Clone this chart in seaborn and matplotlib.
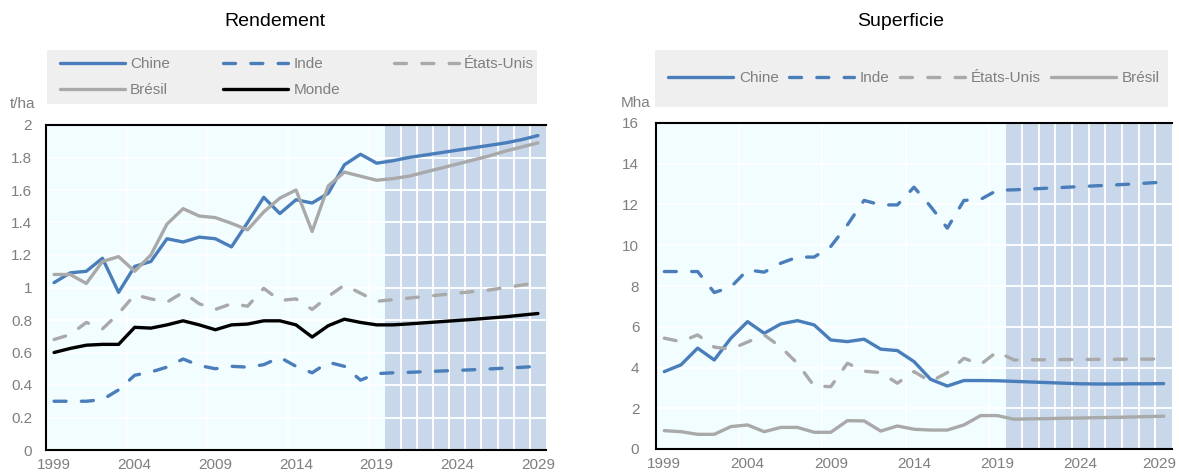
import numpy as np
import pandas as pd
import matplotlib
matplotlib.use("Agg")
import matplotlib.pyplot as plt
import seaborn as sns
from matplotlib import font_manager
from matplotlib.patches import Rectangle
from matplotlib.ticker import FixedLocator, FuncFormatter
from matplotlib.transforms import ScaledTranslation

# ---- data ----
years = list(range(1999, 2030))

rend_chine = [1.03, 1.09, 1.10, 1.18, 0.97, 1.13, 1.16, 1.30, 1.28, 1.31, 1.30, 1.25, 1.40, 1.555, 1.455, 1.54,
              1.52, 1.58, 1.755, 1.82, 1.765, 1.78, 1.80, 1.815, 1.83, 1.845, 1.86, 1.875, 1.89, 1.91, 1.935]
rend_inde = [0.30, 0.30, 0.30, 0.31, 0.37, 0.46, 0.48, 0.51, 0.56, 0.52, 0.50, 0.515, 0.51, 0.525, 0.57, 0.515,
             0.475, 0.54, 0.515, 0.43, 0.47, 0.475, 0.478, 0.482, 0.486, 0.49, 0.494, 0.499, 0.504, 0.509, 0.515]
rend_eu = [0.68, 0.71, 0.785, 0.745, 0.84, 0.955, 0.93, 0.91, 0.97, 0.90, 0.865, 0.90, 0.885, 0.995, 0.92, 0.93,
           0.865, 0.945, 1.015, 0.965, 0.915, 0.925, 0.935, 0.945, 0.955, 0.965, 0.975, 0.985, 1.0, 1.015, 1.03]
rend_bresil = [1.08, 1.08, 1.025, 1.16, 1.19, 1.10, 1.20, 1.39, 1.485, 1.44, 1.43, 1.395, 1.355, 1.465, 1.55, 1.60,
               1.345, 1.625, 1.71, 1.685, 1.66, 1.67, 1.685, 1.71, 1.735, 1.76, 1.785, 1.81, 1.84, 1.865, 1.89]
rend_monde = [0.60, 0.625, 0.645, 0.65, 0.65, 0.755, 0.75, 0.77, 0.795, 0.77, 0.74, 0.77, 0.775, 0.795, 0.795, 0.77,
              0.695, 0.765, 0.805, 0.785, 0.77, 0.77, 0.776, 0.783, 0.79, 0.797, 0.804, 0.812, 0.82, 0.83, 0.84]

sup_chine = [3.80, 4.13, 4.95, 4.37, 5.44, 6.25, 5.68, 6.14, 6.30, 6.09, 5.35, 5.27, 5.39, 4.90, 4.83, 4.29,
             3.42, 3.09, 3.36, 3.36, 3.35, 3.32, 3.29, 3.26, 3.23, 3.20, 3.19, 3.19, 3.20, 3.20, 3.21]
sup_inde = [8.71, 8.71, 8.71, 7.68, 7.95, 8.79, 8.68, 9.12, 9.42, 9.42, 9.94, 11.0, 12.2, 11.98, 11.98, 12.85,
            11.9, 10.84, 12.2, 12.25, 12.7, 12.72, 12.76, 12.8, 12.84, 12.88, 12.92, 12.96, 13.0, 13.05, 13.1]
sup_eu = [5.44, 5.27, 5.6, 5.0, 4.9, 5.25, 5.6, 5.0, 4.2, 3.09, 3.06, 4.21, 3.82, 3.75, 3.23, 3.80,
          3.31, 3.75, 4.45, 4.15, 4.78, 4.37, 4.38, 4.38, 4.39, 4.39, 4.40, 4.40, 4.41, 4.41, 4.42]
sup_bresil = [0.90, 0.85, 0.72, 0.72, 1.10, 1.18, 0.85, 1.06, 1.06, 0.82, 0.82, 1.39, 1.38, 0.88, 1.13, 0.97,
              0.93, 0.93, 1.18, 1.64, 1.64, 1.46, 1.48, 1.49, 1.51, 1.52, 1.54, 1.55, 1.57, 1.59, 1.61]

year_labels = [1999, 2004, 2009, 2014, 2019, 2024, 2029]
first_projection = 2020

# ---- style ----
BLUE = "#4a7ebb"
GREY = "#a9a9a9"
TXT = "#7f7f7f"
BG = "#f2fdff"
PROJ = "#c9d7ea"
DASH = (0, (3.6, 4.6))
LW = 2.4
FS = 11

sns.set_theme(style="white")
available = {f.name for f in font_manager.fontManager.ttflist}
font = "Liberation Sans Narrow" if "Liberation Sans Narrow" in available else "Liberation Sans"
plt.rcParams["font.family"] = [font, "DejaVu Sans"]

W, H = 1179, 474
fig = plt.figure(figsize=(W / 100, H / 100), dpi=100)


def px_rect(x0, y0, x1, y1):
    return [x0 / W, 1 - y1 / H, (x1 - x0) / W, (y1 - y0) / H]


def draw_panel(ax, series, ymax, ystep, ypad):
    df = pd.DataFrame({"annee": years})
    for name, vals, color, ls in series:
        df[name] = vals
        sns.lineplot(data=df, x="annee", y=name, ax=ax, color=color, lw=LW, linestyle=ls,
                     label=name, legend=False, solid_capstyle="round", dash_capstyle="round", zorder=3)

    ax.set_facecolor(BG)
    ax.set_xlim(years[0] - 0.5, years[-1] + 0.5)
    ax.set_ylim(0, ymax)
    ax.axvspan(first_projection - 0.5, years[-1] + 0.5, color=PROJ, lw=0, zorder=0.2)
    ax.vlines(np.arange(first_projection + 0.5, years[-1], 1), 0, ymax, color="white", lw=1.3, zorder=0.6)

    ax.set_axisbelow(True)
    ax.set_yticks(np.arange(0, ymax + ystep / 2, ystep))
    ax.yaxis.set_major_formatter(FuncFormatter(lambda v, p: f"{v:g}"))
    ax.set_xticks(year_labels)
    ax.xaxis.set_minor_locator(FixedLocator([y - 0.5 for y in year_labels[1:]]))
    ax.grid(axis="y", color="white", lw=1.3)
    ax.grid(axis="x", which="minor", color="white", lw=1.3)
    ax.tick_params(axis="x", which="major", length=0, pad=6, labelsize=FS, labelcolor=TXT)
    ax.tick_params(axis="x", which="minor", direction="in", length=5, width=1.2, color="black")
    ax.tick_params(axis="y", direction="in", length=5, width=1.2, color="black", pad=ypad,
                   labelsize=FS, labelcolor=TXT)
    ax.set_xlabel("")
    ax.set_ylabel("")
    for side in ["top", "left", "bottom"]:
        ax.spines[side].set_visible(True)
        ax.spines[side].set_color("black")
        ax.spines[side].set_linewidth(1.5)
    ax.spines["right"].set_visible(False)


# ---- left panel: Rendement ----
ax1 = fig.add_axes(px_rect(46, 125, 546, 450))
rend_series = [
    ("Chine", rend_chine, BLUE, "-"),
    ("Inde", rend_inde, BLUE, DASH),
    ("États-Unis", rend_eu, GREY, DASH),
    ("Brésil", rend_bresil, GREY, "-"),
    ("Monde", rend_monde, "black", "-"),
]
draw_panel(ax1, rend_series, 2, 0.2, 10)

# ---- right panel: Superficie ----
ax2 = fig.add_axes(px_rect(656, 123, 1172, 449))
sup_series = [
    ("Chine", sup_chine, BLUE, "-"),
    ("Inde", sup_inde, BLUE, DASH),
    ("États-Unis", sup_eu, GREY, DASH),
    ("Brésil", sup_bresil, GREY, "-"),
]
draw_panel(ax2, sup_series, 16, 2, 12)

# last year label sits on the figure edge: nudge it a little to the left
last = ax2.xaxis.get_major_ticks()[-1].label1
last.set_transform(last.get_transform() + ScaledTranslation(-4 / 100, 0, fig.dpi_scale_trans))

# ---- legend boxes, titles, units ----
for x0, y0, x1, y1 in [(47, 50, 537, 104), (655, 50, 1168, 107)]:
    fig.add_artist(Rectangle((x0 / W, 1 - y1 / H), (x1 - x0) / W, (y1 - y0) / H,
                             transform=fig.transFigure, facecolor="#efefef", edgecolor="none", zorder=0))

hl = 65 / (FS * 100 / 72)
h1, l1 = ax1.get_legend_handles_labels()
order = [0, 3, 1, 4, 2]  # rows: Chine, Inde, États-Unis / Brésil, Monde
fig.legend([h1[i] for i in order], [l1[i] for i in order], loc="center",
           bbox_to_anchor=(297 / W, 1 - 77 / H), ncol=3, frameon=False,
           fontsize=FS, labelcolor=TXT, handlelength=hl, handletextpad=0.35, columnspacing=3.5,
           labelspacing=0.8, borderpad=0)
h2, l2 = ax2.get_legend_handles_labels()
fig.legend(h2, l2, loc="center", bbox_to_anchor=(914 / W, 1 - 78 / H), ncol=4, frameon=False,
           fontsize=FS, labelcolor=TXT, handlelength=hl, handletextpad=0.35, columnspacing=0.7,
           borderpad=0)

fig.text(275 / W, 1 - 22 / H, "Rendement", ha="center", va="center", fontsize=14, color="black")
fig.text(901 / W, 1 - 22 / H, "Superficie", ha="center", va="center", fontsize=14, color="black")
fig.text(23 / W, 1 - 104 / H, "t/ha", ha="center", va="center", fontsize=FS, color=TXT)
fig.text(636 / W, 1 - 103 / H, "Mha", ha="center", va="center", fontsize=FS, color=TXT)

fig.savefig("out.png", dpi=100)
